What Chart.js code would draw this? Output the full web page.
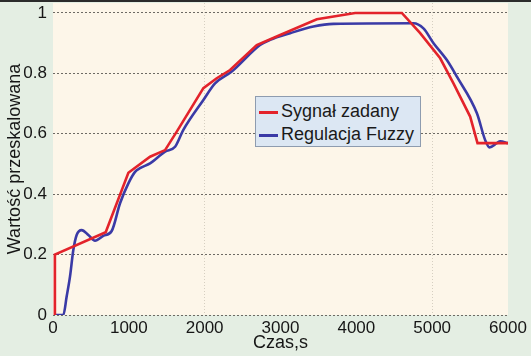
<!DOCTYPE html>
<html>
<head>
<meta charset="utf-8">
<script src="https://cdn.jsdelivr.net/npm/chart.js@4.4.0/dist/chart.umd.min.js"></script>
<style>
  body { margin: 0; background: #e4eee3; }
  #wrap { position: relative; width: 531px; height: 356px; overflow: hidden; }
  #topline { position: absolute; left: 0; top: 0; width: 531px; height: 2px; background: #2b2b2b; }
  #legend {
    position: absolute; left: 255px; top: 96px; width: 164px; height: 49px;
    background: #dce7f3; border: 1px solid #8e9caf;
    font-family: "Liberation Sans", Arial, sans-serif; font-size: 18px; color: #1a1a1a;
  }
  .row { position: absolute; left: 3px; height: 22px; line-height: 22px; white-space: nowrap; }
  .row i { display: inline-block; width: 19px; height: 3px; vertical-align: middle; margin-right: 3px; }
</style>
</head>
<body>
<div id="wrap">
  <canvas id="chart" width="531" height="356"></canvas>
  <div id="topline"></div>
  <div id="legend">
    <div class="row" style="top:3px"><i style="background:#e3232b"></i>Sygnał zadany</div>
    <div class="row" style="top:26px"><i style="background:#3a3aa6"></i>Regulacja Fuzzy</div>
  </div>
</div>
<script>
const sygnalX = [25, 25, 695, 994, 1280, 1478, 1632, 1983, 2159, 2335, 2687, 2995, 3479, 3984, 4600, 4842, 5106, 5281, 5501, 5598, 6000];
const sygnalY = [0, 0.2, 0.274, 0.471, 0.524, 0.546, 0.607, 0.751, 0.784, 0.811, 0.894, 0.927, 0.979, 1.0, 1.0, 0.933, 0.85, 0.767, 0.657, 0.569, 0.569];

const fuzzyX = [25, 136, 180, 224, 268, 312, 378, 466, 554, 664, 774, 884, 994, 1082, 1148, 1280, 1478, 1610, 1719, 1983, 2137, 2357, 2731, 2863, 3127, 3434, 3698, 4753, 4885, 5018, 5194, 5326, 5590, 5699, 5756, 5853, 5897, 6000];
const fuzzyY = [0, 0, 0.061, 0.127, 0.215, 0.265, 0.281, 0.265, 0.246, 0.262, 0.278, 0.370, 0.436, 0.474, 0.486, 0.502, 0.541, 0.557, 0.613, 0.712, 0.767, 0.806, 0.894, 0.911, 0.933, 0.955, 0.964, 0.966, 0.949, 0.9, 0.844, 0.789, 0.668, 0.579, 0.555, 0.569, 0.575, 0.569];

const xTicks = [0, 1000, 2000, 3000, 4000, 5000, 6000];
const yTicks = [0, 0.2, 0.4, 0.6, 0.8, 1];
const xGridShown = [2000, 5000];

function toPoints(xs, ys) {
  return xs.map((x, i) => ({ x: x, y: ys[i] }));
}

const plotBg = {
  id: 'plotBg',
  beforeDraw(chart) {
    const { ctx, chartArea: a } = chart;
    ctx.save();
    ctx.fillStyle = '#fdf6e9';
    ctx.fillRect(a.left, a.top, a.right - a.left, a.bottom - a.top);
    ctx.restore();
  }
};

const font = { family: '"Liberation Sans", Arial, sans-serif', size: 17 };

const chart = new Chart(document.getElementById('chart').getContext('2d'), {
  type: 'line',
  data: {
    datasets: [
      {
        label: 'Sygnał zadany',
        data: toPoints(sygnalX, sygnalY),
        borderColor: '#e3232b',
        borderWidth: 2.6,
        pointRadius: 0,
        tension: 0
      },
      {
        label: 'Regulacja Fuzzy',
        data: toPoints(fuzzyX, fuzzyY),
        borderColor: '#3a3aa6',
        borderWidth: 2.6,
        pointRadius: 0,
        cubicInterpolationMode: 'monotone'
      }
    ]
  },
  options: {
    responsive: false,
    animation: false,
    layout: { padding: { top: 3, right: 23, left: 0, bottom: 0 } },
    plugins: { legend: { display: false }, tooltip: { enabled: false } },
    scales: {
      x: {
        type: 'linear',
        min: 0,
        max: 6000,
        afterBuildTicks: s => { s.ticks = xTicks.map(v => ({ value: v })); },
        afterFit: s => { s.height = 41; s.paddingLeft = 0; s.paddingRight = 0; },
        ticks: { font: font, color: '#161616', padding: 3, maxRotation: 0, callback: v => String(v) },
        grid: {
          drawTicks: false,
          lineWidth: 1,
          color: c => (c.tick && xGridShown.includes(c.tick.value)) ? '#d6cfc1' : 'rgba(0,0,0,0)'
        },
        border: { display: false, dash: [1, 2] },
        title: {
          display: true, text: 'Czas,s', color: '#161616',
          font: { family: font.family, size: 18 }, padding: { top: 0, bottom: 2 }
        }
      },
      y: {
        type: 'linear',
        min: 0,
        max: 1.033,
        afterBuildTicks: s => { s.ticks = yTicks.map(v => ({ value: v })); },
        afterFit: s => { s.width = 53; s.paddingTop = 0; s.paddingBottom = 0; },
        ticks: { font: font, color: '#161616', padding: 6, callback: v => String(v) },
        grid: { drawTicks: false, lineWidth: 1, color: '#6d6a64' },
        border: { display: false, dash: [2, 2] },
        title: {
          display: true, text: 'Wartość przeskalowana', color: '#161616',
          font: { family: font.family, size: 18 }, padding: { top: 4, bottom: 0 }
        }
      }
    }
  },
  plugins: [plotBg]
});
</script>
</body>
</html>
